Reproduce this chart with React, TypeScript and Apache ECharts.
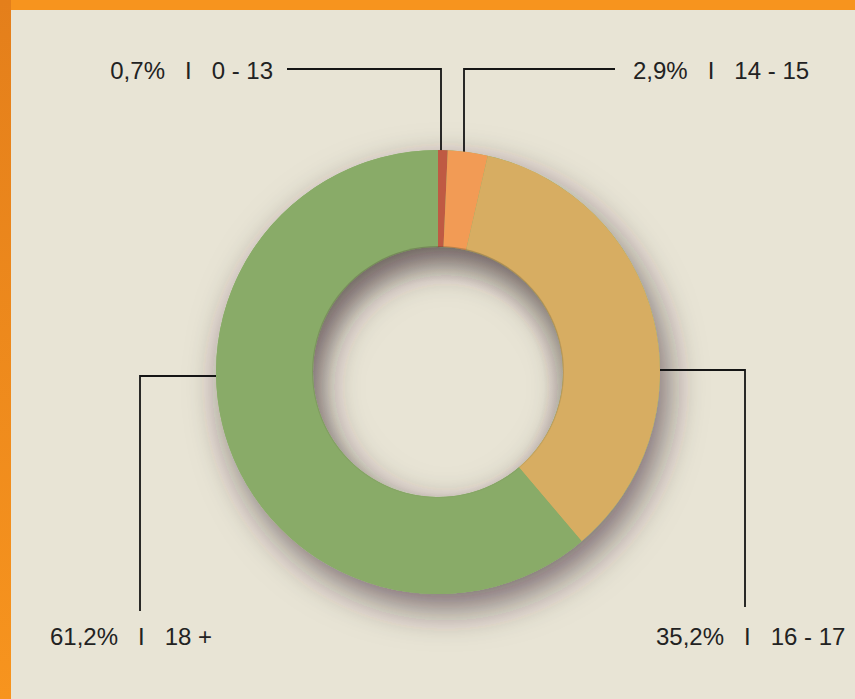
import React, { useEffect, useRef } from "react";
import * as echarts from "echarts";

// ---- data ----
const categories = ["0 - 13", "14 - 15", "16 - 17", "18 +"];
const shares = [0.7, 2.9, 35.2, 61.2];
const sliceColors = ["#bf5a43", "#f29b55", "#d7ad62", "#89ab68"];

// ---- layout (pixels in the 855x699 page) ----
const W = 855;
const H = 699;
const CX = 438;
const CY = 372;
const R_OUT = 222;
const R_IN = 125;

const labelSpots = [
  { x: 273, y: 70, align: "right", line: [[441, CY - R_OUT + 3], [441, 69], [287, 69]] },
  { x: 633, y: 70, align: "left", line: [[464, CY - R_OUT + 4], [464, 69], [615, 69]] },
  { x: 656, y: 636, align: "left", line: [[CX + R_OUT, 370], [745, 370], [745, 607]] },
  { x: 50, y: 636, align: "left", line: [[CX - R_OUT, 376], [140, 376], [140, 611]] },
];

const fmtPct = (v: number) => v.toFixed(1).replace(".", ",") + "%";

export default function App() {
  const ref = useRef<HTMLDivElement>(null);
  useEffect(() => {
    if (!ref.current) return;
    const chart = echarts.init(ref.current, undefined, { renderer: "svg" });
    const font = "'Liberation Sans', Arial, Helvetica, sans-serif";
    chart.setOption({
      animation: false,
      backgroundColor: "#e8e4d5",
      graphic: [
        {
          type: "circle",
          z: 100,
          silent: true,
          shape: { cx: CX, cy: CY, r: R_IN + 1 },
          style: {
            fill: {
              type: "radial",
              x: 0.5,
              y: 0.56,
              r: 0.56,
              colorStops: [
                { offset: 0, color: "rgba(70,60,50,0)" },
                { offset: 0.75, color: "rgba(70,60,50,0)" },
                { offset: 1, color: "rgba(70,60,50,0.3)" },
              ],
              global: false,
            },
          },
        },
      ],
      series: [
        {
          type: "pie",
          silent: true,
          z: 1,
          center: [CX, CY],
          radius: [R_IN, R_OUT],
          label: { show: false },
          labelLine: { show: false },
          itemStyle: {
            color: "#89ab68",
            shadowBlur: 36,
            shadowOffsetX: 8,
            shadowOffsetY: 15,
            shadowColor: "rgba(50,35,45,0.6)",
          },
          data: [{ value: 1, name: "base" }],
        },
        {
          type: "pie",
          silent: true,
          z: 2,
          center: [CX, CY],
          radius: [R_IN, R_OUT],
          startAngle: 90,
          clockwise: true,
          avoidLabelOverlap: false,
          data: shares.map((v, i) => ({
            value: v,
            name: categories[i],
            itemStyle: { color: sliceColors[i] },
          })),
          label: {
            show: true,
            position: "outside",
            formatter: (p: any) =>
              `{p|${fmtPct(shares[p.dataIndex])}}{s|I}{c|${categories[p.dataIndex]}}`,
            rich: {
              p: { fontFamily: font, fontSize: 24, color: "#222222" },
              s: { fontFamily: font, fontSize: 24, color: "#222222", padding: [0, 20, 0, 20] },
              c: { fontFamily: font, fontSize: 24, color: "#222222" },
            },
          },
          labelLine: {
            show: true,
            lineStyle: { color: "#151515", width: 1.8 },
          },
          labelLayout: (params: any) => {
            const s = labelSpots[params.dataIndex];
            return {
              x: s.x,
              y: s.y,
              align: s.align,
              verticalAlign: "middle",
              labelLinePoints: s.line,
            };
          },
        },
      ],
    });
    return () => chart.dispose();
  }, []);

  return (
    <div style={{ position: "fixed", left: 0, top: 0, width: W, height: H }}>
      <div ref={ref} style={{ position: "absolute", left: 0, top: 0, width: W, height: H }} />
      <div
        style={{
          position: "absolute",
          left: 0,
          top: 0,
          width: W,
          height: 10,
          background: "#f7941e",
        }}
      />
      <div
        style={{
          position: "absolute",
          left: 0,
          top: 0,
          width: 11,
          height: H,
          background: "linear-gradient(#e47f1b, #f7941e)",
        }}
      />
    </div>
  );
}
